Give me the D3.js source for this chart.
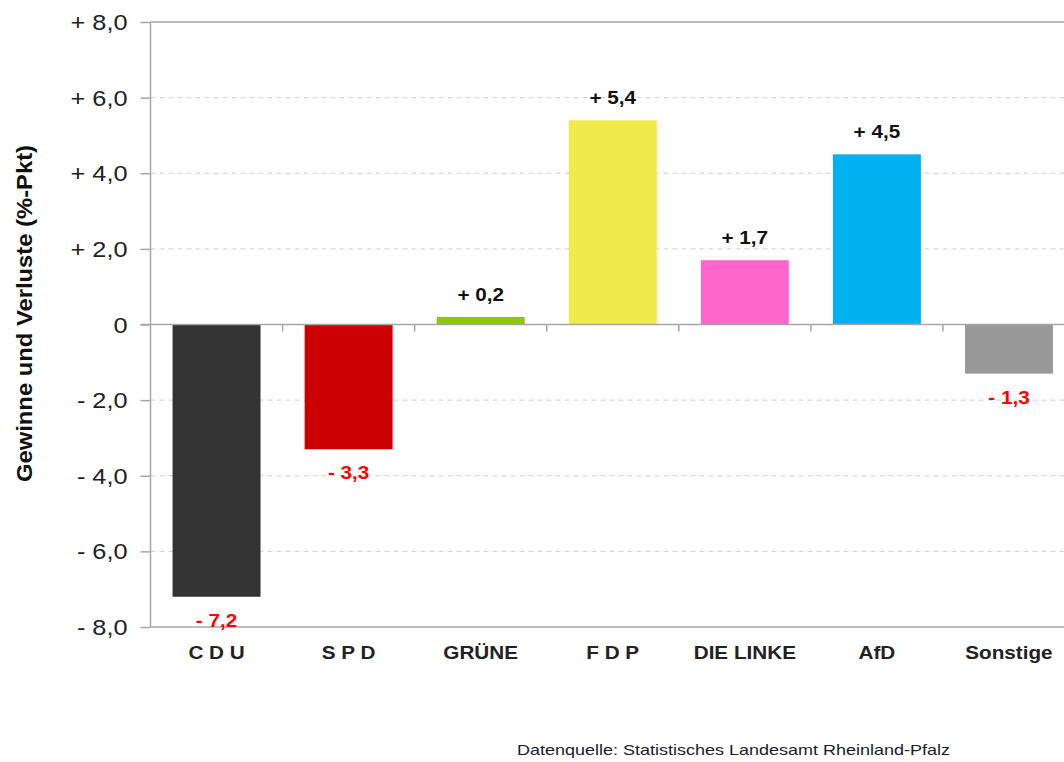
<!DOCTYPE html>
<html><head><meta charset="utf-8">
<script src="https://cdn.jsdelivr.net/npm/d3@7"></script>
<style>
html,body{margin:0;padding:0;background:#fff;}
svg{display:block;}
text{font-family:Arial,"Liberation Sans",sans-serif;}
</style></head>
<body>
<svg id="c" width="1064" height="762"></svg>
<script>
const categories = ["C D U","S P D","GRÜNE","F D P","DIE LINKE","AfD","Sonstige"];
const values = [-7.2,-3.3,0.2,5.4,1.7,4.5,-1.3];
const colors = ["#333333","#CC0000","#8DC800","#F0EA4A","#FF66CC","#00B0F0","#999999"];
const yTicks = [-8,-6,-4,-2,0,2,4,6,8];
const yTitle = "Gewinne und Verluste (%-Pkt)";
const source = "Datenquelle: Statistisches Landesamt Rheinland-Pfalz";

const svg = d3.select("#c");
const SX = 1.15;
const y = d3.scaleLinear().domain([-8,8]).range([627,22]);
const x = d3.scaleBand().domain(categories).range([150.5,1075]).paddingInner(0.334).paddingOuter(0.167);
const step = x.step();
const x0 = 150.5;

const fmt = v => v === 0 ? "0" : (v > 0 ? "+ " : "- ") + d3.format(".1f")(Math.abs(v)).replace(".", ",");

// gridlines
svg.append("g").selectAll("line").data(yTicks.filter(t => t !== 0))
  .join("line")
  .attr("x1", x0).attr("x2", 1075)
  .attr("y1", d => y(d)).attr("y2", d => y(d))
  .attr("stroke", d => Math.abs(d) === 8 ? "#a6a6a6" : "#d0d0d0")
  .attr("stroke-width", d => Math.abs(d) === 8 ? 1.5 : 1)
  .attr("stroke-dasharray", d => Math.abs(d) === 8 ? null : "5,4");

// y axis
const yAxis = d3.axisLeft(y).tickValues(yTicks).tickSize(10).tickFormat(fmt);
const ga = svg.append("g").attr("transform", `translate(${x0},0)`).call(yAxis);
ga.select(".domain").attr("stroke", "#a6a6a6").attr("stroke-width", 1.5).attr("d", `M0,${y(8)}V${y(-8)}`);
ga.selectAll(".tick line").attr("stroke", "#a6a6a6").attr("stroke-width", 1.5);
ga.selectAll(".tick text").each(function(d){
  d3.select(this).attr("x", null).attr("dy", null)
    .attr("transform", `translate(-23,7.5) scale(${SX},1)`)
    .attr("fill", "#222").attr("font-size", 22).attr("text-anchor", "end");
});

// bars
svg.append("g").selectAll("rect").data(categories).join("rect")
  .attr("x", d => x(d))
  .attr("width", x.bandwidth())
  .attr("y", (d,i) => y(Math.max(0, values[i])))
  .attr("height", (d,i) => Math.abs(y(values[i]) - y(0)))
  .attr("fill", (d,i) => colors[i]);

// zero line with category ticks
const xAxis = d3.axisBottom(x).tickSize(0).tickFormat("");
const gz = svg.append("g").attr("transform", `translate(0,${y(0)})`).call(xAxis);
gz.select(".domain").attr("stroke", "#a6a6a6").attr("stroke-width", 1.5).attr("d", `M${x0-10},0H1075`);
gz.selectAll(".tick").remove();
gz.selectAll("line.sep").data(categories.slice(1)).join("line").attr("class","sep")
  .attr("x1", d => x(d) - step*0.167).attr("x2", d => x(d) - step*0.167)
  .attr("y1", 0).attr("y2", 7).attr("stroke", "#a6a6a6").attr("stroke-width", 1.5);

// value labels
svg.append("g").selectAll("text").data(categories).join("text")
  .attr("transform", (d,i) => {
    const cx = x(d) + x.bandwidth()/2;
    const v = values[i];
    const ty = v >= 0 ? y(v) - 16 : y(v) + 30;
    return `translate(${cx},${ty}) scale(${SX},1)`;
  })
  .attr("text-anchor", "middle")
  .attr("font-size", 18).attr("font-weight", "bold")
  .attr("fill", (d,i) => values[i] >= 0 ? "#111" : "#FF0000")
  .text((d,i) => fmt(values[i]));

// category labels
svg.append("g").selectAll("text").data(categories).join("text")
  .attr("transform", d => `translate(${x(d) + x.bandwidth()/2},659) scale(${SX},1)`)
  .attr("text-anchor", "middle")
  .attr("font-size", 18).attr("font-weight", "bold")
  .attr("fill", "#222")
  .text(d => d);

// y title
svg.append("text")
  .attr("transform", "translate(32,313.5) rotate(-90)")
  .attr("text-anchor", "middle")
  .attr("font-size", 22).attr("font-weight", "bold").attr("fill", "#111")
  .attr("textLength", 337).attr("lengthAdjust", "spacingAndGlyphs")
  .text(yTitle);

// source
svg.append("text")
  .attr("x", 517).attr("y", 755)
  .attr("font-family", "'Open Sans', sans-serif")
  .attr("font-size", 15).attr("fill", "#1a1a2a")
  .attr("textLength", 433).attr("lengthAdjust", "spacingAndGlyphs")
  .text(source);
</script>
</body></html>
